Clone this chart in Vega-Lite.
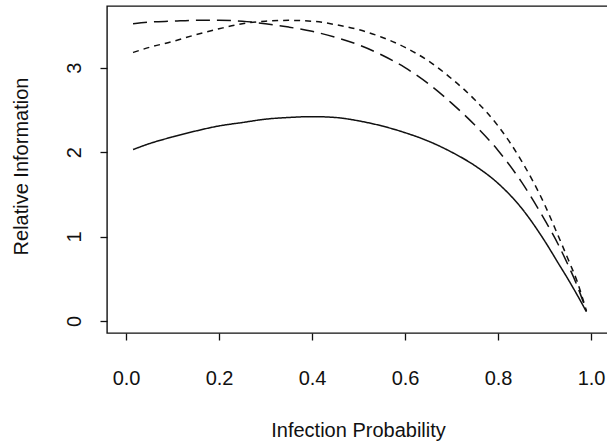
{
  "$schema": "https://vega.github.io/schema/vega-lite/v6.json",
  "autosize": {"type": "none"},
  "padding": {"left": 107, "top": 6, "right": 0, "bottom": 111},
  "width": 520,
  "height": 327,
  "background": "white",
  "config": {
    "view": {"stroke": "#111111", "strokeWidth": 1.4},
    "font": "Liberation Sans"
  },
  "data": {
    "values": [
      {"p": 0.015, "info": 2.03, "series": "A"},
      {"p": 0.05, "info": 2.10, "series": "A"},
      {"p": 0.10, "info": 2.18, "series": "A"},
      {"p": 0.15, "info": 2.25, "series": "A"},
      {"p": 0.20, "info": 2.31, "series": "A"},
      {"p": 0.25, "info": 2.35, "series": "A"},
      {"p": 0.30, "info": 2.39, "series": "A"},
      {"p": 0.35, "info": 2.41, "series": "A"},
      {"p": 0.40, "info": 2.42, "series": "A"},
      {"p": 0.45, "info": 2.41, "series": "A"},
      {"p": 0.50, "info": 2.37, "series": "A"},
      {"p": 0.55, "info": 2.31, "series": "A"},
      {"p": 0.60, "info": 2.23, "series": "A"},
      {"p": 0.65, "info": 2.13, "series": "A"},
      {"p": 0.70, "info": 2.00, "series": "A"},
      {"p": 0.75, "info": 1.84, "series": "A"},
      {"p": 0.80, "info": 1.63, "series": "A"},
      {"p": 0.85, "info": 1.34, "series": "A"},
      {"p": 0.90, "info": 0.95, "series": "A"},
      {"p": 0.93, "info": 0.68, "series": "A"},
      {"p": 0.95, "info": 0.50, "series": "A"},
      {"p": 0.97, "info": 0.31, "series": "A"},
      {"p": 0.99, "info": 0.11, "series": "A"},
      {"p": 0.015, "info": 3.52, "series": "B"},
      {"p": 0.05, "info": 3.54, "series": "B"},
      {"p": 0.10, "info": 3.55, "series": "B"},
      {"p": 0.15, "info": 3.56, "series": "B"},
      {"p": 0.20, "info": 3.56, "series": "B"},
      {"p": 0.25, "info": 3.55, "series": "B"},
      {"p": 0.30, "info": 3.52, "series": "B"},
      {"p": 0.35, "info": 3.48, "series": "B"},
      {"p": 0.40, "info": 3.43, "series": "B"},
      {"p": 0.45, "info": 3.36, "series": "B"},
      {"p": 0.50, "info": 3.27, "series": "B"},
      {"p": 0.55, "info": 3.15, "series": "B"},
      {"p": 0.60, "info": 3.00, "series": "B"},
      {"p": 0.65, "info": 2.81, "series": "B"},
      {"p": 0.70, "info": 2.58, "series": "B"},
      {"p": 0.75, "info": 2.32, "series": "B"},
      {"p": 0.80, "info": 2.02, "series": "B"},
      {"p": 0.85, "info": 1.65, "series": "B"},
      {"p": 0.90, "info": 1.20, "series": "B"},
      {"p": 0.93, "info": 0.90, "series": "B"},
      {"p": 0.95, "info": 0.67, "series": "B"},
      {"p": 0.97, "info": 0.42, "series": "B"},
      {"p": 0.99, "info": 0.12, "series": "B"},
      {"p": 0.015, "info": 3.18, "series": "C"},
      {"p": 0.05, "info": 3.24, "series": "C"},
      {"p": 0.10, "info": 3.31, "series": "C"},
      {"p": 0.15, "info": 3.39, "series": "C"},
      {"p": 0.20, "info": 3.46, "series": "C"},
      {"p": 0.25, "info": 3.52, "series": "C"},
      {"p": 0.30, "info": 3.55, "series": "C"},
      {"p": 0.35, "info": 3.56, "series": "C"},
      {"p": 0.40, "info": 3.55, "series": "C"},
      {"p": 0.45, "info": 3.51, "series": "C"},
      {"p": 0.50, "info": 3.45, "series": "C"},
      {"p": 0.55, "info": 3.36, "series": "C"},
      {"p": 0.60, "info": 3.24, "series": "C"},
      {"p": 0.65, "info": 3.08, "series": "C"},
      {"p": 0.70, "info": 2.87, "series": "C"},
      {"p": 0.75, "info": 2.62, "series": "C"},
      {"p": 0.80, "info": 2.31, "series": "C"},
      {"p": 0.85, "info": 1.90, "series": "C"},
      {"p": 0.90, "info": 1.38, "series": "C"},
      {"p": 0.93, "info": 1.00, "series": "C"},
      {"p": 0.95, "info": 0.74, "series": "C"},
      {"p": 0.97, "info": 0.47, "series": "C"},
      {"p": 0.99, "info": 0.12, "series": "C"}
    ]
  },
  "mark": {"type": "line", "color": "#111111", "strokeWidth": 1.5, "clip": true, "interpolate": "monotone"},
  "encoding": {
    "x": {
      "field": "p",
      "type": "quantitative",
      "scale": {"domain": [-0.041, 1.0773], "nice": false, "zero": false},
      "axis": {
        "values": [0, 0.2, 0.4, 0.6, 0.8, 1.0],
        "format": ".1f",
        "title": "Infection Probability",
        "domain": false,
        "grid": false,
        "tickSize": 7,
        "tickWidth": 1.3,
        "tickColor": "#111111",
        "labelFont": "Liberation Sans",
        "labelFontSize": 20,
        "labelColor": "#111111",
        "labelBaseline": "alphabetic",
        "labelPadding": 44,
        "labelFlush": false,
        "labelOverlap": false,
        "titleFont": "Liberation Sans",
        "titleFontSize": 20,
        "titleFontWeight": "normal",
        "titleColor": "#111111",
        "titleBaseline": "alphabetic",
        "titleY": 103,
        "titleX": 251
      }
    },
    "y": {
      "field": "info",
      "type": "quantitative",
      "scale": {"domain": [-0.142, 3.73], "nice": false, "zero": false},
      "axis": {
        "values": [0, 1, 2, 3],
        "format": "d",
        "title": "Relative Information",
        "domain": false,
        "grid": false,
        "tickSize": 7,
        "tickWidth": 1.3,
        "tickColor": "#111111",
        "labelFont": "Liberation Sans",
        "labelFontSize": 20,
        "labelColor": "#111111",
        "labelAngle": -90,
        "labelAlign": "center",
        "labelBaseline": "alphabetic",
        "labelPadding": 20,
        "labelFlush": false,
        "labelOverlap": false,
        "titleFont": "Liberation Sans",
        "titleFontSize": 20,
        "titleFontWeight": "normal",
        "titleColor": "#111111",
        "titleAngle": -90,
        "titleBaseline": "alphabetic",
        "titleAlign": "center",
        "titleX": -80,
        "titleY": 160
      }
    },
    "strokeDash": {
      "field": "series",
      "type": "nominal",
      "scale": {"domain": ["A", "B", "C"], "range": [[1, 0], [14, 7], [6, 5]]},
      "legend": null
    }
  }
}
